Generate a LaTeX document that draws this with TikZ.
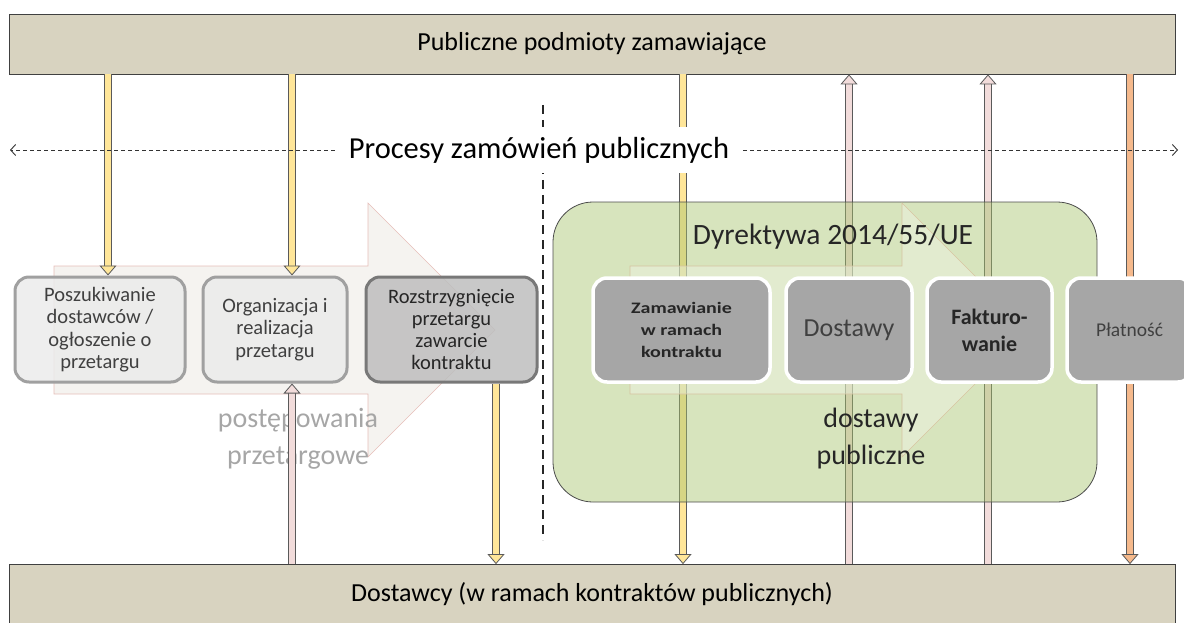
\documentclass[tikz,border=0pt]{standalone}
\usepackage{fontspec}
\setmainfont{Carlito}
\newfontfamily\widebold[FakeStretch=1.25]{Carlito Bold}
\usetikzlibrary{arrows.meta}

\definecolor{barfill}{RGB}{216,211,192}
\definecolor{lboxfill}{RGB}{235,235,235}
\definecolor{lboxedge}{RGB}{160,160,160}
\definecolor{lboxdark}{RGB}{190,190,190}
\definecolor{lboxdarkedge}{RGB}{120,120,120}
\definecolor{rboxfill}{RGB}{166,166,166}
\definecolor{greenfill}{RGB}{166,195,108}
\definecolor{flowleft}{RGB}{245,243,240}
\definecolor{flowleftedge}{RGB}{230,190,185}
\definecolor{flowright}{RGB}{240,245,230}
\definecolor{flowrightedge}{RGB}{215,195,160}
\definecolor{arryel}{RGB}{255,230,153}
\definecolor{arrpink}{RGB}{242,220,219}
\definecolor{arrorange}{RGB}{245,185,140}
\definecolor{arredge}{RGB}{90,90,90}

\begin{document}
\begin{tikzpicture}[x=1pt, y=-1pt,
    bar/.style={draw=black!75, fill=barfill, line width=0.8pt, minimum width=1166pt, minimum height=60pt, inner sep=0pt, font=\fontsize{26}{30}\selectfont},
    lbox/.style={draw=lboxedge, fill=lboxfill, fill opacity=0.85, text opacity=1, line width=3pt, rounded corners=14pt, minimum height=105pt, inner sep=0pt, align=center, text=black!75, font=\fontsize{20.5}{22.3}\selectfont},
    rbox/.style={draw=white, fill=rboxfill, line width=3.5pt, rounded corners=14pt, minimum height=104pt, inner sep=0pt, align=center, text=black!85},
    varr/.style={draw=#1, line width=6.4pt, -{Triangle[width=17pt,length=10pt,line width=0.8pt,fill=#1,color=arredge]}, preaction={draw=arredge, line width=8pt, arrows=-, shorten >=8pt}},
    bigtext/.style={align=center, font=\fontsize{28}{37}\selectfont},
    hdash/.style={draw=black!80, line width=0.9pt, dash pattern=on 4pt off 3pt, -{Straight Barb[length=5pt,width=11pt]}}]
    \useasboundingbox (0,0) rectangle (1184,623);

    % Bars
    \node[bar] (top) at (592,44) {Publiczne podmioty zamawiające};
    \node[bar] (bot) at (592,594.5) {Dostawcy (w ramach kontraktów publicznych)};

    % Left process arrow
    \draw[fill=flowleft, draw=flowleftedge, line width=0.6pt] (54,266) -- (368,266) -- (368,203) -- (495,330) -- (368,457) -- (368,394) -- (54,394) -- cycle;
    \node[bigtext, text=black!35] (post) at (298,439) {postępowania\\przetargowe};

    % Tender steps
    \node[lbox, minimum width=170pt] (b1) at (100,329.5) {Poszukiwanie\\dostawców /\\ogłoszenie o\\przetargu};
    \node[lbox, minimum width=144pt] (b2) at (275,329.5) {Organizacja i\\realizacja\\przetargu};
    \node[lbox, minimum width=171pt, fill=lboxdark, draw=lboxdarkedge, text=black!85] (b3) at (451.5,329.5) {Rozstrzygnięcie\\przetargu\\zawarcie\\kontraktu};

    % Flows between buyers and suppliers
    \coordinate (xa) at (108,0);
    \coordinate (xb) at (292,0);
    \coordinate (xc) at (496,0);
    \coordinate (xd) at (683,0);
    \coordinate (xe) at (849,0);
    \coordinate (xf) at (988,0);
    \coordinate (xg) at (1130,0);
    \draw[varr=arryel] (xa |- top.south) -- (xa |- b1.north);
    \draw[varr=arryel] (xb |- top.south) -- (xb |- b2.north);
    \draw[varr=arrpink] (xb |- bot.north) -- (xb |- b2.south);
    \draw[varr=arryel] (xc |- b3.south) -- (xc |- bot.north);
    \draw[varr=arryel] (xd |- top.south) -- (xd |- bot.north);
    \draw[varr=arrpink] (xe |- bot.north) -- (xe |- top.south);
    \draw[varr=arrpink] (xf |- bot.north) -- (xf |- top.south);
    \draw[varr=arrorange] (xg |- top.south) -- (xg |- bot.north);

    % Directive area
    \node[draw=black!70, fill=greenfill, fill opacity=0.45, line width=0.8pt, rounded corners=40pt, minimum width=544pt, minimum height=300pt] (dir) at (825,352) {};
    \draw[fill=flowright, fill opacity=0.45, draw=flowrightedge, line width=0.6pt] (630,266) -- (902,266) -- (902,203) -- (1029,330) -- (902,457) -- (902,394) -- (630,394) -- cycle;
    \node[font=\fontsize{29.5}{34}\selectfont, text=black!85] (dirlab) at (833,237) {Dyrektywa 2014/55/UE};
    \node[bigtext, text=black!85] (dost) at (871,439) {dostawy\\publiczne};

    % Delivery steps
    \node[rbox, minimum width=177pt, font=\widebold\fontsize{16}{22}\selectfont] (r1) at (681.5,330) {Zamawianie\\w ramach\\kontraktu};
    \node[rbox, minimum width=126pt, font=\fontsize{26}{30}\selectfont, text=black!75] (r2) at (849,330) {Dostawy};
    \node[rbox, minimum width=125pt, font=\bfseries\fontsize{22}{27}\selectfont] (r3) at (989.5,330) {Fakturo-\\wanie};
    \node[rbox, minimum width=125pt, font=\fontsize{19.5}{23}\selectfont, text=black!75] (r4) at (1129.5,330) {Płatność};

    % Divider and process line
    \coordinate (dtop) at (543,105);
    \coordinate (dbot) at (543,540);
    \draw[black!85, line width=2.2pt, dash pattern=on 9pt off 6pt] (dtop) -- (dbot);
    \node[fill=white, inner xsep=14pt, inner ysep=10pt, font=\fontsize{30.5}{34}\selectfont] (proc) at (539,150) {Procesy zamówień publicznych};
    \coordinate (pl) at (10,150);
    \coordinate (pr) at (1178,150);
    \draw[hdash] (proc.west) -- (pl);
    \draw[hdash] (proc.east) -- (pr);
\end{tikzpicture}
\end{document}
